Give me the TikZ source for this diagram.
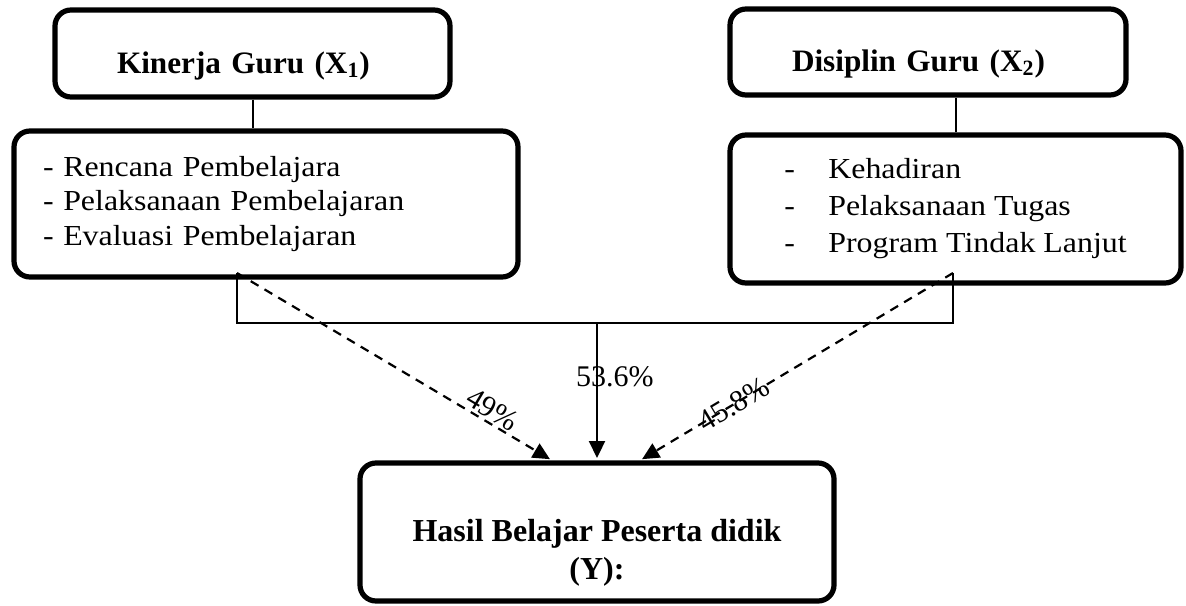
\documentclass[tikz,border=0pt]{standalone}
\usepackage{fontspec}
\setmainfont{Liberation Serif}
\newfontfamily\listfont[FakeStretch=1.1]{Liberation Serif}
\usepackage{tikz}
\usetikzlibrary{arrows.meta, positioning, calc}

\begin{document}
\begin{tikzpicture}[x=0.5pt, y=-0.5pt, every node/.style={font=\fontsize{15}{18}\selectfont}]
  \tikzset{
    box/.style={rectangle, rounded corners=8pt, draw=black, line width=2.6pt},
    head/.style={box, align=left, font=\fontsize{15.6}{19}\selectfont\bfseries, text height=20pt, text depth=0pt, inner xsep=31pt},
    list/.style={box, align=left, inner xsep=14.5pt},
    result/.style={box, align=center, font=\fontsize{16}{19}\selectfont\bfseries},
    line/.style={line width=1pt, color=black},
    arr/.style={-{Triangle[length=8.5pt, width=8pt]}, line width=1.1pt, shorten >=1.2pt},
    dasharr/.style={arr, dash pattern=on 4.5pt off 3.5pt},
    pct/.style={font=\fontsize{15}{18}\selectfont, inner sep=1pt}
  }
  \useasboundingbox (0,0) rectangle (1186,605);

  \node[head, minimum width=197.5pt, minimum height=43.5pt, text width=135.5pt] (kinerja) at (252.5,53.5) {Kinerja Guru (X\textsubscript{1})};
  \node[list, minimum width=252pt, minimum height=73pt, text width=223pt, font=\listfont\fontsize{14.5}{17.25}\selectfont] (kinerjaind) at (266,204)
    {- Rencana Pembelajara\\- Pelaksanaan Pembelajaran\\- Evaluasi Pembelajaran};
  \node[head, minimum width=198pt, minimum height=43pt, text width=136pt, text height=19pt] (disiplin) at (928,52) {Disiplin Guru (X\textsubscript{2})};
  \node[list, minimum width=225.5pt, minimum height=74pt, font=\listfont\fontsize{14.5}{18.5}\selectfont] (disiplinind) at (955.5,209)
    {\makebox[22pt][l]{-}Kehadiran\\\makebox[22pt][l]{-}Pelaksanaan Tugas\\\makebox[22pt][l]{-}Program Tindak Lanjut};
  \node[result, minimum width=237pt, minimum height=69pt] (hasil) at (597,532)
    {\rule{0pt}{31.5pt}Hasil Belajar Peserta didik\\(Y):};

  \coordinate (kl) at (237,273);
  \coordinate (dr) at (953,273);
  \coordinate (jl) at (237,323);

  \draw[line] (kinerja.south) -- (kinerja.south |- kinerjaind.north);
  \draw[line] (disiplinind.north) -- (disiplinind.north |- disiplin.south);
  \draw[line] (kl) -- (jl) -| (dr);

  \draw[arr] (hasil.north |- jl) -- (hasil.north) node[pct, pos=0.39, right=-12pt] {53.6\%};
  \draw[dasharr] (kl) -- ($(hasil.north)+(-45,0)$) node[pct, pos=0.79, sloped, above] {49\%};
  \draw[dasharr] (dr) -- ($(hasil.north)+(43,0)$) node[pct, pos=0.7, sloped] {45.8\%};
\end{tikzpicture}
\end{document}
